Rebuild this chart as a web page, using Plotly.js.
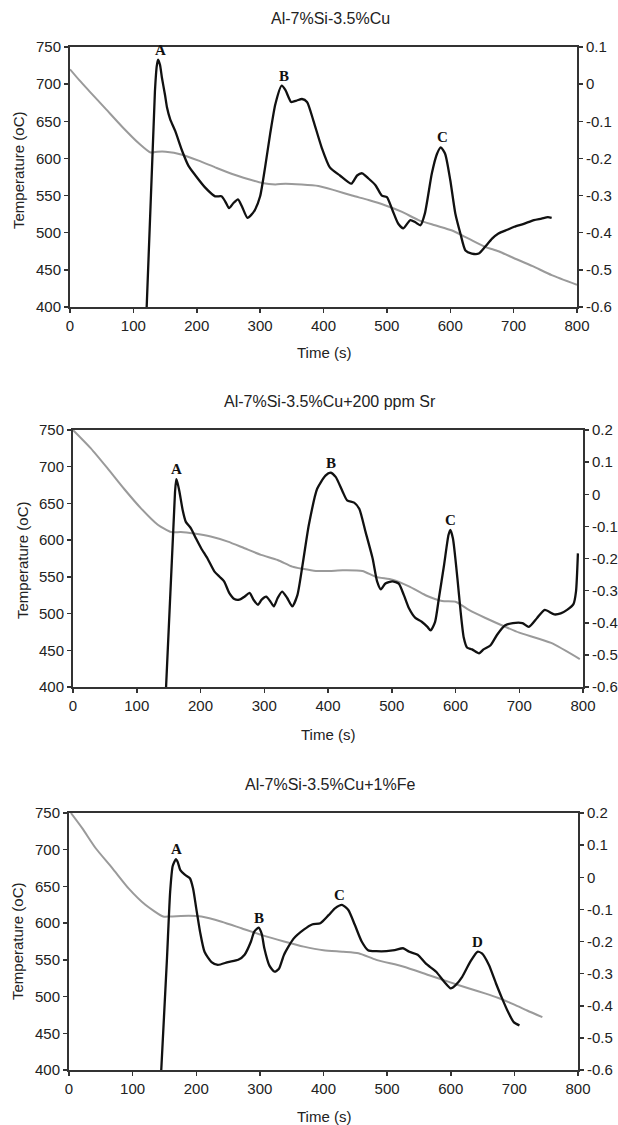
<!DOCTYPE html>
<html>
<head>
<meta charset="utf-8">
<script src="https://cdn.plot.ly/plotly-3.0.1.min.js"></script>
<style>html,body{margin:0;padding:0;background:#fff;}#chart{width:618px;height:1125px;}</style>
</head>
<body>
<div id="chart"></div>
<script>
// ---------- Panel titles & axis labels ----------
const panelTitles = ["Al-7%Si-3.5%Cu", "Al-7%Si-3.5%Cu+200 ppm Sr", "Al-7%Si-3.5%Cu+1%Fe"];
const xTitle = "Time (s)";
const yTitle = "Temperature (oC)";

// ---------- Tick labels ----------
const xTickVals = [0, 100, 200, 300, 400, 500, 600, 700, 800];
const xTickText = ["0", "100", "200", "300", "400", "500", "600", "700", "800"];
const tempTickVals = [400, 450, 500, 550, 600, 650, 700, 750];
const tempTickText = ["400", "450", "500", "550", "600", "650", "700", "750"];
const rightTickVals1 = [-0.6, -0.5, -0.4, -0.3, -0.2, -0.1, 0, 0.1];
const rightTickText1 = ["-0.6", "-0.5", "-0.4", "-0.3", "-0.2", "-0.1", "0", "0.1"];
const rightTickVals23 = [-0.6, -0.5, -0.4, -0.3, -0.2, -0.1, 0, 0.1, 0.2];
const rightTickText23 = ["-0.6", "-0.5", "-0.4", "-0.3", "-0.2", "-0.1", "0", "0.1", "0.2"];

// ---------- Panel 1: Al-7%Si-3.5%Cu ----------
const p1CoolTime = [0, 15, 30, 56, 83, 109, 127, 138, 151, 177, 203, 229, 256, 282, 303, 324, 340, 392, 418, 445, 471, 497, 524, 550, 576, 603, 629, 655, 676, 700, 730, 760, 800];
const p1CoolTemp = [720, 705, 691, 667, 642, 620, 608, 609, 609, 605, 597, 588, 579, 572, 567, 565, 566, 563, 557, 550, 544, 537, 528, 517, 510, 503, 492, 481, 475, 466, 455, 443, 430];
const p1DerivTime = [121, 134, 137, 139, 142, 145, 150, 153, 158, 166, 177, 187, 198, 213, 229, 239, 245, 251, 258, 265, 271, 280, 286, 292, 300, 308, 316, 324, 334, 340, 349, 358, 366, 374, 384, 397, 410, 426, 444, 453, 461, 471, 482, 492, 500, 509, 518, 526, 537, 545, 553, 560, 571, 579, 585, 592, 600, 608, 616, 624, 634, 645, 655, 666, 676, 690, 701, 716, 732, 744, 754, 760];
const p1Deriv = [-0.6, -0.02, 0.05, 0.066, 0.052, 0.018, -0.03, -0.062, -0.094, -0.126, -0.18, -0.22, -0.246, -0.278, -0.302, -0.302, -0.316, -0.334, -0.32, -0.31, -0.328, -0.36, -0.352, -0.338, -0.302, -0.222, -0.132, -0.054, -0.004, -0.016, -0.048, -0.044, -0.04, -0.048, -0.098, -0.17, -0.224, -0.246, -0.268, -0.246, -0.24, -0.254, -0.272, -0.3, -0.304, -0.34, -0.376, -0.388, -0.366, -0.372, -0.38, -0.348, -0.24, -0.188, -0.17, -0.188, -0.258, -0.348, -0.402, -0.448, -0.456, -0.456, -0.438, -0.416, -0.402, -0.392, -0.384, -0.376, -0.366, -0.362, -0.358, -0.36];
const p1PeakNames = ["A", "B", "C"];
const p1PeakTimes = [143, 338, 588];

// ---------- Panel 2: +200 ppm Sr ----------
const p2CoolTime = [0, 28, 54, 80, 107, 133, 154, 169, 190, 216, 243, 269, 295, 321, 344, 360, 381, 402, 423, 454, 475, 501, 527, 553, 579, 600, 621, 647, 678, 700, 750, 795];
const p2CoolTemp = [750, 725, 698, 670, 643, 621, 611, 611, 609, 605, 598, 589, 580, 573, 564, 561, 558, 558, 559, 558, 550, 546, 537, 525, 517, 516, 505, 494, 482, 474, 460, 438];
const p2DerivTime = [146, 160, 162, 164, 167, 172, 177, 185, 193, 201, 211, 222, 230, 237, 245, 253, 261, 269, 277, 283, 290, 296, 303, 310, 315, 321, 328, 336, 344, 352, 360, 370, 383, 396, 404, 412, 423, 430, 441, 449, 459, 470, 477, 483, 490, 501, 511, 519, 527, 537, 547, 556, 561, 568, 574, 582, 589, 592, 596, 603, 608, 613, 618, 626, 637, 644, 655, 665, 678, 690, 705, 715, 728, 740, 755, 765, 775, 785, 789, 792];
const p2Deriv = [-0.6, 0.006, 0.047, 0.035, 0.008, -0.049, -0.086, -0.106, -0.138, -0.168, -0.2, -0.241, -0.257, -0.271, -0.307, -0.326, -0.328, -0.319, -0.307, -0.328, -0.344, -0.328, -0.319, -0.335, -0.349, -0.323, -0.303, -0.323, -0.349, -0.314, -0.221, -0.095, 0.017, 0.058, 0.067, 0.054, 0.008, -0.019, -0.026, -0.045, -0.118, -0.2, -0.271, -0.296, -0.278, -0.271, -0.278, -0.314, -0.355, -0.385, -0.397, -0.413, -0.424, -0.397, -0.323, -0.221, -0.127, -0.111, -0.138, -0.262, -0.365, -0.447, -0.477, -0.483, -0.495, -0.483, -0.47, -0.438, -0.408, -0.401, -0.401, -0.413, -0.385, -0.36, -0.374, -0.371, -0.36, -0.342, -0.303, -0.184];
const p2PeakNames = ["A", "B", "C"];
const p2PeakTimes = [163, 405, 592];

// ---------- Panel 3: +1% Fe ----------
const p3CoolTime = [3, 21, 42, 68, 94, 120, 148, 159, 188, 208, 240, 271, 302, 338, 369, 400, 431, 455, 483, 525, 566, 597, 629, 655, 675, 700, 720, 744];
const p3CoolTemp = [750, 729, 702, 675, 647, 625, 609, 609, 610, 609, 602, 593, 584, 575, 568, 563, 561, 559, 550, 541, 529, 520, 511, 504, 498, 489, 481, 472];
const p3DerivTime = [145, 154, 159, 163, 168, 171, 175, 182, 190, 195, 200, 206, 213, 224, 234, 250, 266, 276, 286, 291, 298, 303, 307, 315, 323, 330, 338, 353, 369, 382, 395, 408, 418, 429, 439, 449, 460, 470, 483, 499, 512, 525, 535, 548, 561, 577, 590, 600, 608, 618, 631, 642, 649, 660, 671, 680, 690, 699, 708];
const p3Deriv = [-0.6, -0.253, -0.045, 0.035, 0.056, 0.047, 0.022, 0.008, -0.003, -0.035, -0.097, -0.17, -0.232, -0.264, -0.273, -0.264, -0.257, -0.241, -0.2, -0.17, -0.157, -0.177, -0.221, -0.275, -0.294, -0.285, -0.241, -0.191, -0.163, -0.147, -0.143, -0.118, -0.097, -0.086, -0.102, -0.147, -0.2, -0.227, -0.23, -0.23, -0.227, -0.221, -0.232, -0.241, -0.269, -0.294, -0.326, -0.346, -0.335, -0.31, -0.262, -0.232, -0.237, -0.273, -0.33, -0.374, -0.419, -0.451, -0.461];
const p3PeakNames = ["A", "B", "C", "D"];
const p3PeakTimes = [169, 298, 425, 642];

// ---------- Layout geometry (pixels) ----------
const W = 618, H = 1125;
const panels = [
  {box: [70, 577, 47, 307], titleY: 18, xTitleY: 353, yTitleX: 19, yTitleY: 170, right: [-0.6, 0.1], rtv: rightTickVals1, rtt: rightTickText1,
   ct: p1CoolTime, cv: p1CoolTemp, dt: p1DerivTime, dv: p1Deriv, pn: p1PeakNames, pt: p1PeakTimes},
  {box: [73, 583, 430, 687], titleY: 402, xTitleY: 734, yTitleX: 22, yTitleY: 560, right: [-0.6, 0.2], rtv: rightTickVals23, rtt: rightTickText23,
   ct: p2CoolTime, cv: p2CoolTemp, dt: p2DerivTime, dv: p2Deriv, pn: p2PeakNames, pt: p2PeakTimes},
  {box: [69, 578, 813, 1070], titleY: 784, xTitleY: 1116, yTitleX: 17, yTitleY: 941, right: [-0.6, 0.2], rtv: rightTickVals23, rtt: rightTickText23,
   ct: p3CoolTime, cv: p3CoolTemp, dt: p3DerivTime, dv: p3Deriv, pn: p3PeakNames, pt: p3PeakTimes}
];

const FONT = "Liberation Sans, Arial, sans-serif";
const TXT = "#222";
const AX = "#333";
const TICKSIZE = 15;
const traces = [];
const layout = {
  width: W, height: H, autosize: false,
  margin: {l: 0, r: 0, t: 0, b: 0, pad: 0},
  paper_bgcolor: "#fff", plot_bgcolor: "#fff",
  showlegend: false,
  font: {family: FONT, size: TICKSIZE, color: TXT},
  annotations: []
};

panels.forEach((p, i) => {
  const n = i + 1;
  const xa = n === 1 ? "x" : "x" + n;
  const yl = 2 * i + 1, yr = 2 * i + 2;
  const yla = yl === 1 ? "y" : "y" + yl;
  const yra = "y" + yr;
  const [x0, x1, y0, y1] = p.box;
  const xd = [x0 / W, x1 / W];
  const yd = [1 - y1 / H, 1 - y0 / H];

  layout["xaxis" + (n === 1 ? "" : n)] = {
    domain: xd, anchor: yla, range: [0, 800],
    tickmode: "array", tickvals: xTickVals, ticktext: xTickText,
    ticks: "outside", ticklen: 4, tickwidth: 1.5, tickcolor: AX,
    showline: true, linewidth: 2, linecolor: AX, mirror: true,
    showgrid: false, zeroline: false,
    tickfont: {family: FONT, size: TICKSIZE, color: TXT}
  };
  layout["yaxis" + (yl === 1 ? "" : yl)] = {
    domain: yd, anchor: xa, range: [400, 750],
    tickmode: "array", tickvals: tempTickVals, ticktext: tempTickText,
    ticks: "outside", ticklen: 4, tickwidth: 1.5, tickcolor: AX,
    showline: true, linewidth: 2, linecolor: AX,
    showgrid: false, zeroline: false,
    tickfont: {family: FONT, size: TICKSIZE, color: TXT}
  };
  layout["yaxis" + yr] = {
    overlaying: yla, anchor: xa, side: "right", range: p.right,
    tickmode: "array", tickvals: p.rtv, ticktext: p.rtt,
    ticks: "outside", ticklen: 4, tickwidth: 1.5, tickcolor: AX,
    showline: true, linewidth: 2, linecolor: AX,
    showgrid: false, zeroline: false,
    tickfont: {family: FONT, size: TICKSIZE, color: TXT}
  };

  traces.push({
    x: p.ct, y: p.cv, xaxis: xa, yaxis: yla, type: "scatter", mode: "lines",
    line: {color: "#9a9a9a", width: 2, shape: "spline", smoothing: 0.6}, hoverinfo: "skip"
  });
  traces.push({
    x: p.dt, y: p.dv, xaxis: xa, yaxis: yra, type: "scatter", mode: "lines",
    line: {color: "#111", width: 2.3, shape: "spline", smoothing: 0.6}, hoverinfo: "skip"
  });

  // peak letters placed just above the local maximum of the derivative curve
  p.pn.forEach((name, k) => {
    const tx = p.pt[k];
    let best = -Infinity;
    p.dt.forEach((t, j) => { if (Math.abs(t - tx) <= 9 && p.dv[j] > best) best = p.dv[j]; });
    layout.annotations.push({
      text: "<b>" + name + "</b>", x: tx, y: best, xref: xa, yref: yra,
      showarrow: false, yanchor: "middle", xanchor: "center", yshift: 10,
      font: {family: "Liberation Serif, Times New Roman, serif", size: 15, color: "#111"}
    });
  });

  // chart title
  layout.annotations.push({
    text: panelTitles[i], xref: "paper", yref: "paper", x: 330 / W, y: 1 - p.titleY / H,
    xanchor: "center", yanchor: "middle", showarrow: false,
    font: {family: FONT, size: 16, color: TXT}
  });
  // x axis title
  layout.annotations.push({
    text: xTitle, xref: "paper", yref: "paper", x: ((x0 + x1) / 2) / W, y: 1 - p.xTitleY / H,
    xanchor: "center", yanchor: "middle", showarrow: false,
    font: {family: FONT, size: 15, color: TXT}
  });
  // y axis title
  layout.annotations.push({
    text: yTitle, xref: "paper", yref: "paper", x: p.yTitleX / W, y: 1 - p.yTitleY / H,
    xanchor: "center", yanchor: "middle", showarrow: false, textangle: -90,
    font: {family: FONT, size: 15, color: TXT}
  });
});

Plotly.newPlot("chart", traces, layout, {staticPlot: true, displayModeBar: false});
</script>
</body>
</html>
